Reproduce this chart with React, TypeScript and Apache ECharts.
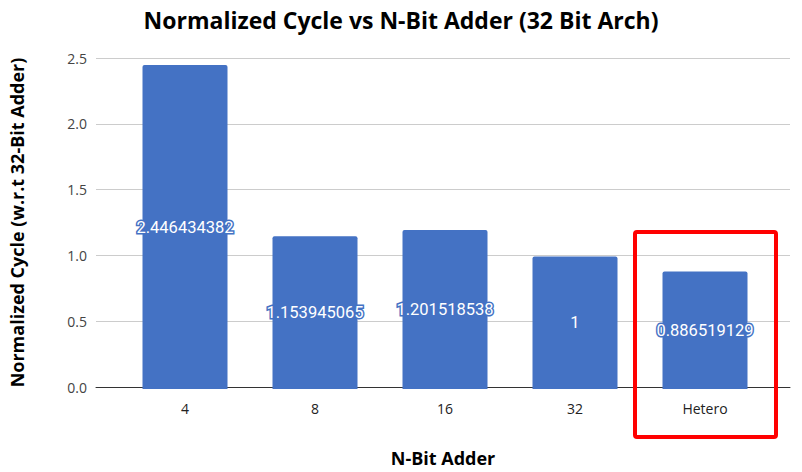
import React, { useEffect, useRef } from "react";
import * as echarts from "echarts";

const categories = ["4", "8", "16", "32", "Hetero"];
const values = [2.446434382, 1.153945065, 1.201518538, 1, 0.886519129];
const yTicks = [0, 0.5, 1.0, 1.5, 2.0, 2.5];

export default function App() {
  const ref = useRef<HTMLDivElement>(null);
  useEffect(() => {
    if (!ref.current) return;
    const chart = echarts.init(ref.current, undefined, { renderer: "svg" });
    const yMin = yTicks[0];
    const yMax = yTicks[yTicks.length - 1];
    chart.setOption({
      animation: false,
      backgroundColor: "#ffffff",
      title: {
        text: "Normalized Cycle vs N-Bit Adder (32 Bit Arch)",
        left: "center",
        top: 3,
        textStyle: { fontFamily: "Open Sans", fontWeight: "bold", fontSize: 23, color: "#000" },
      },
      grid: [
        { left: 95, right: 12, top: 58, bottom: 83 },
        { left: 120, right: 32, top: 58, bottom: 83 },
      ],
      xAxis: [
        {
          gridIndex: 0,
          type: "category",
          data: categories,
          axisLine: { show: true, lineStyle: { color: "#333", width: 1 } },
          axisTick: { show: false },
          axisLabel: { show: false },
          name: "N-Bit Adder",
          nameLocation: "middle",
          nameGap: 62,
          nameTextStyle: { fontFamily: "Open Sans", fontWeight: "bold", fontSize: 18, color: "#000" },
        },
        {
          gridIndex: 1,
          type: "category",
          data: categories,
          axisLine: { show: false },
          axisTick: { show: false },
          axisLabel: { color: "#222", fontFamily: "Open Sans", fontSize: 14, margin: 12 },
        },
      ],
      yAxis: [
        {
          gridIndex: 0,
          type: "value",
          min: yMin,
          max: yMax,
          interval: 0.5,
          axisLine: { show: false },
          axisTick: { show: false },
          axisLabel: {
            color: "#444",
            fontFamily: "Open Sans",
            fontSize: 14,
            margin: 9,
            formatter: (v: number) => v.toFixed(1),
          },
          splitLine: { lineStyle: { color: "#cccccc", width: 1 } },
          name: "Normalized Cycle (w.r.t 32-Bit Adder)",
          nameLocation: "middle",
          nameGap: 70,
          nameTextStyle: { fontFamily: "Open Sans", fontWeight: "bold", fontSize: 18, color: "#000" },
        },
        {
          gridIndex: 1,
          type: "value",
          min: yMin,
          max: yMax,
          interval: 0.5,
          show: false,
          splitLine: { show: false },
        },
      ],
      series: [
        {
          type: "bar",
          xAxisIndex: 1,
          yAxisIndex: 1,
          data: values,
          barWidth: 85,
          itemStyle: { color: "#4472C4", borderRadius: [2, 2, 0, 0] },
          label: {
            show: true,
            position: "inside",
            color: "#ffffff",
            fontFamily: "Roboto",
            fontSize: 16.5,
            textBorderColor: "#4472C4",
            textBorderWidth: 3,
            formatter: (p: any) => String(p.value),
          },
        },
      ],
      graphic: [
        {
          type: "rect",
          shape: { x: 635, y: 232, width: 141, height: 205, r: 2 },
          style: { fill: "none", stroke: "#ff0000", lineWidth: 4 },
          z: 100,
        },
      ],
    });
    return () => chart.dispose();
  }, []);
  return <div ref={ref} style={{ width: 802, height: 472, position: "absolute", left: 0, top: 0 }} />;
}
